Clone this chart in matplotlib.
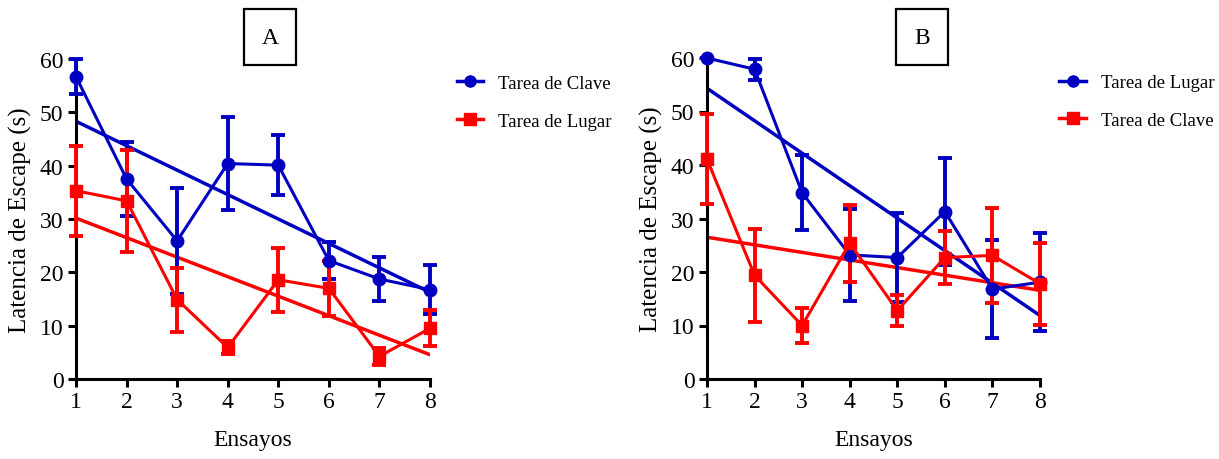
import matplotlib
matplotlib.use('Agg')
from matplotlib import pyplot as plt
from matplotlib.lines import Line2D
import numpy as np

plt.rcParams['font.family'] = ['Liberation Serif', 'DejaVu Serif']

ensayos = [1, 2, 3, 4, 5, 6, 7, 8]

# Panel A
a_clave = [56.7, 37.5, 25.9, 40.4, 40.1, 22.2, 18.75, 16.75]
a_clave_err = [3.3, 6.9, 9.9, 8.7, 5.6, 3.5, 4.1, 4.6]
a_lugar = [35.3, 33.4, 14.9, 5.9, 18.6, 17.0, 4.25, 9.5]
a_lugar_err = [8.4, 9.5, 6.0, 1.2, 6.0, 5.1, 1.6, 3.4]

# Panel B
b_lugar = [60.0, 57.9, 34.8, 23.2, 22.7, 31.3, 16.8, 18.1]
b_lugar_err = [0.0, 2.0, 7.0, 8.6, 8.3, 10.0, 9.2, 9.2]
b_clave = [41.1, 19.4, 10.0, 25.4, 12.8, 22.7, 23.1, 17.8]
b_clave_err = [8.4, 8.7, 3.2, 7.2, 2.9, 4.9, 8.9, 7.7]

blue = '#0000c0'
red = '#ff0000'

fig = plt.figure(figsize=(12.19, 4.6), dpi=100)
axA = fig.add_axes([76 / 1219, 80 / 460, 354 / 1219, 320 / 460])
axB = fig.add_axes([707 / 1219, 80 / 460, 333 / 1219, 321 / 460])


def panel(ax, s1, e1, lab1, s2, e2, lab2, letter, box_x, leg_x):
    x = np.array(ensayos)
    handles = []
    for s, e, col, mk, lab in [(s1, e1, blue, 'o', lab1), (s2, e2, red, 's', lab2)]:
        ax.errorbar(x, s, yerr=e, color=col, marker=mk, markersize=9,
                    lw=2.2, elinewidth=2.8, capsize=5, capthick=2.8,
                    clip_on=False, zorder=3)
        # regression line through the means
        m, b = np.polyfit(x, s, 1)
        ax.plot(x, m * x + b, color=col, lw=2.5, zorder=2)
        handles.append(Line2D([], [], color=col, marker=mk, markersize=8, lw=2.5, label=lab))
    ax.set_xlim(1, 8)
    ax.set_ylim(0, 60)
    ax.set_xticks(ensayos)
    ax.set_yticks([0, 10, 20, 30, 40, 50, 60])
    for side in ['top', 'right']:
        ax.spines[side].set_visible(False)
    for side in ['left', 'bottom']:
        ax.spines[side].set_linewidth(2.2)
    ax.tick_params(width=2.2, length=6, labelsize=17, pad=3)
    ax.set_xlabel('Ensayos', fontsize=17, labelpad=12)
    ax.set_ylabel('Latencia de Escape (s)', fontsize=18, labelpad=6)
    fig.text(box_x, 1 - 38 / 460, letter, fontsize=17, ha='center', va='center',
             bbox=dict(boxstyle='square,pad=0.75', fc='white', ec='black', lw=1.6))
    ax.legend(handles=handles, loc='upper left', bbox_to_anchor=(leg_x, 0.962),
              frameon=False, fontsize=13.5, handlelength=1.4, handletextpad=0.8,
              labelspacing=1.1, borderpad=0.2, borderaxespad=0)


panel(axA, a_clave, a_clave_err, 'Tarea de Clave', a_lugar, a_lugar_err, 'Tarea de Lugar',
      'A', 270 / 1219, 1.065)
panel(axB, b_lugar, b_lugar_err, 'Tarea de Lugar', b_clave, b_clave_err, 'Tarea de Clave',
      'B', 922 / 1219, 1.047)

fig.savefig('out.png', dpi=100)
